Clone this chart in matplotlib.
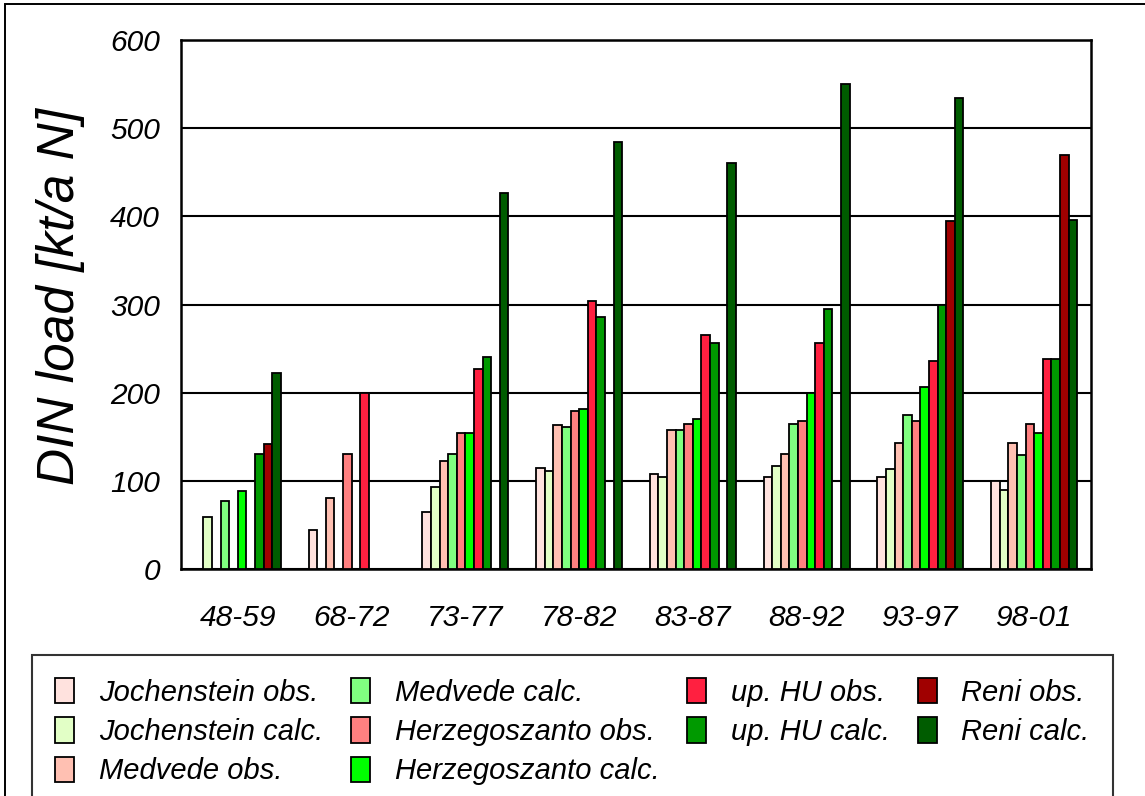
import numpy as np
import matplotlib.pyplot as plt
from matplotlib.patches import Rectangle

plt.rcParams['font.family'] = ['Liberation Sans', 'DejaVu Sans']
plt.rcParams['font.style'] = 'italic'

periods = ['48-59', '68-72', '73-77', '78-82', '83-87', '88-92', '93-97', '98-01']

# DIN load [kt/a N] per period (0 = no bar)
joch_obs = [0, 44, 65, 115, 108, 104, 104, 100]
joch_calc = [59, 0, 93, 111, 104, 117, 113, 90]
medv_obs = [0, 81, 123, 163, 158, 131, 143, 143]
medv_calc = [77, 0, 131, 161, 158, 165, 175, 129]
herz_obs = [0, 131, 154, 179, 165, 168, 168, 165]
herz_calc = [88, 0, 154, 181, 170, 200, 206, 154]
uphu_obs = [0, 200, 227, 304, 265, 256, 236, 238]
uphu_calc = [131, 0, 240, 286, 256, 295, 300, 238]
reni_obs = [142, 0, 0, 0, 0, 0, 395, 470]
reni_calc = [222, 0, 427, 484, 461, 550, 534, 396]

series = [
    ('Jochenstein obs.', joch_obs, '#FFE2DE'),
    ('Jochenstein calc.', joch_calc, '#E2FFC6'),
    ('Medvede obs.', medv_obs, '#FFC0B2'),
    ('Medvede calc.', medv_calc, '#80FF80'),
    ('Herzegoszanto obs.', herz_obs, '#FF8080'),
    ('Herzegoszanto calc.', herz_calc, '#00FF00'),
    ('up. HU obs.', uphu_obs, '#FF2040'),
    ('up. HU calc.', uphu_calc, '#009A00'),
    ('Reni obs.', reni_obs, '#A00000'),
    ('Reni calc.', reni_calc, '#005C00'),
]

fig = plt.figure(figsize=(11.45, 7.96), dpi=100)
ax = fig.add_axes([181/1145, 1 - 569/796, (1091-181)/1145, (569-40)/796])

x = np.arange(len(periods))
w = 0.0757
for i, (name, vals, col) in enumerate(series):
    ax.bar(x + (i - 4.5) * w, vals, width=w, color=col, edgecolor='black',
           linewidth=1.3, label=name, zorder=3)

ax.set_xlim(-0.5, len(periods) - 0.5)
ax.set_ylim(0, 600)
ax.set_yticks(range(0, 601, 100))
ax.set_xticks(x)
ax.set_xticklabels(periods)
ax.tick_params(axis='both', length=0, labelsize=21.5)
ax.tick_params(axis='x', pad=25)
ax.tick_params(axis='y', pad=15)
ax.yaxis.grid(True, color='black', linewidth=1.5, zorder=1)
ax.set_axisbelow(True)
for s in ax.spines.values():
    s.set_linewidth(1.8)

ax.set_ylabel('DIN load [kt/a N]', fontsize=37)
ax.yaxis.set_label_coords(-0.105, 0.515)

leg = fig.legend(loc='upper left', bbox_to_anchor=(32/1145, 1 - 655/796),
                 ncol=4, fontsize=21, frameon=True, fancybox=False,
                 edgecolor='black', handlelength=0.65, handleheight=0.95,
                 handletextpad=0.85, columnspacing=0.95, labelspacing=0.36,
                 borderpad=0.8, borderaxespad=0)
leg.get_frame().set_linewidth(1.5)

# outer border of the figure
fig.patches.append(Rectangle((5/1145, -0.05), 1.1, 1.05 - 4.5/796, transform=fig.transFigure,
                             fill=False, edgecolor='black', linewidth=1.4))

fig.savefig('out.png', dpi=100)
